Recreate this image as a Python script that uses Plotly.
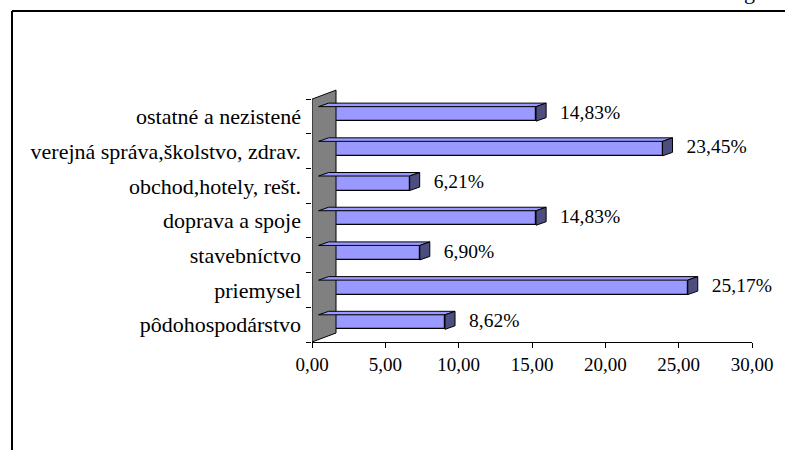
"""
plot.py

Employment structure by sector, drawn as an Excel-style 3D horizontal bar chart.
The 3D faces are built from the same values as the bars, in axis units.
"""

import plotly.graph_objects as go

# ---------------------------------------------------------------------------
# Data
# ---------------------------------------------------------------------------
CATEGORIES = [
    "pôdohospodárstvo",
    "priemysel",
    "stavebníctvo",
    "doprava a spoje",
    "obchod,hotely, rešt.",
    "verejná správa,školstvo, zdrav.",
    "ostatné a nezistené",
]
VALUES = [8.62, 25.17, 6.90, 14.83, 6.21, 23.45, 14.83]
VALUE_LABELS = ["8,62%", "25,17%", "6,90%", "14,83%", "6,21%", "23,45%", "14,83%"]
X_TICKS = [0, 5, 10, 15, 20, 25, 30]
X_TICK_LABELS = ["0,00", "5,00", "10,00", "15,00", "20,00", "25,00", "30,00"]

# ---------------------------------------------------------------------------
# Style / geometry
# ---------------------------------------------------------------------------
W, H = 785, 450
M_L, M_R, M_T, M_B = 312, 33, 87, 108
X_RANGE = [0, 30]
Y_RANGE = [-0.5, 6.85]

PX_X = (W - M_L - M_R) / (X_RANGE[1] - X_RANGE[0])   # pixels per x unit
PX_Y = (H - M_T - M_B) / (Y_RANGE[1] - Y_RANGE[0])   # pixels per category

FONT = "Liberation Serif"
COLOUR_FRONT = "#9999FF"
COLOUR_SIDE = "#4D4D80"
COLOUR_WALL = "#808080"

# 3D offsets, expressed in axis units
WALL_DX, WALL_DY = 24 / PX_X, 9 / PX_Y
BAR_OX, BAR_OY = 6.6 / PX_X, 2.6 / PX_Y
BAR_DX, BAR_DY = 10 / PX_X, 3.5 / PX_Y
BAR_W = 14.5 / PX_Y
LABEL_GAP = 14 / PX_X


def _px_to_paper(px, py):
    """Convert a pixel position on the page to paper coordinates."""
    return (px - M_L) / (W - M_L - M_R), (H - M_B - py) / (H - M_T - M_B)


def _polys(points_fn):
    xs, ys = [], []
    for i, v in enumerate(VALUES):
        px, py = points_fn(i, v)
        xs += px + [px[0], None]
        ys += py + [py[0], None]
    return xs, ys


def _top_face(i, v):
    yt = i + BAR_OY + BAR_W / 2
    x0, x1 = BAR_OX, BAR_OX + v
    return ([x0, x1, x1 + BAR_DX, x0 + BAR_DX], [yt, yt, yt + BAR_DY, yt + BAR_DY])


def _side_face(i, v):
    yt = i + BAR_OY + BAR_W / 2
    yb = i + BAR_OY - BAR_W / 2
    x1 = BAR_OX + v
    return ([x1, x1, x1 + BAR_DX, x1 + BAR_DX], [yb, yt, yt + BAR_DY, yb + BAR_DY])


fig = go.Figure()

# back wall
wall_lo, wall_hi = Y_RANGE[0], len(CATEGORIES) - 0.5
fig.add_trace(go.Scatter(
    x=[0, WALL_DX, WALL_DX, 0, 0],
    y=[wall_lo, wall_lo + WALL_DY, wall_hi + WALL_DY, wall_hi, wall_lo],
    mode="lines", fill="toself", fillcolor=COLOUR_WALL,
    line=dict(color="black", width=1),
    hoverinfo="skip", showlegend=False,
))

# front faces
fig.add_trace(go.Bar(
    x=VALUES,
    y=[i + BAR_OY for i in range(len(VALUES))],
    base=BAR_OX,
    width=BAR_W,
    orientation="h",
    marker=dict(color=COLOUR_FRONT, line=dict(color="black", width=1.2)),
    showlegend=False,
))

# top and right faces
for fn, colour in ((_top_face, COLOUR_FRONT), (_side_face, COLOUR_SIDE)):
    xs, ys = _polys(fn)
    fig.add_trace(go.Scatter(
        x=xs, y=ys, mode="lines", fill="toself", fillcolor=colour,
        line=dict(color="black", width=1),
        hoverinfo="skip", showlegend=False,
    ))

# value labels
fig.add_trace(go.Scatter(
    x=[v + BAR_OX + BAR_DX + LABEL_GAP for v in VALUES],
    y=[i + BAR_OY for i in range(len(VALUES))],
    mode="text", text=VALUE_LABELS, textposition="middle right",
    textfont=dict(family=FONT, size=19.5, color="black"),
    cliponaxis=False, hoverinfo="skip", showlegend=False,
))

# chart frame (only top and left edges are inside the picture)
fx0, fy0 = _px_to_paper(12, 11)
fx1, fy1 = _px_to_paper(W + 5, H + 5)
fig.add_shape(type="line", xref="paper", yref="paper", x0=fx0, y0=fy0, x1=fx1, y1=fy0,
              line=dict(color="black", width=2))
fig.add_shape(type="line", xref="paper", yref="paper", x0=fx0, y0=fy0, x1=fx0, y1=fy1,
              line=dict(color="black", width=2))

# cut-off glyph of the heading above the chart
gx, gy = _px_to_paper(749, 6)
fig.add_annotation(text="g", xref="paper", yref="paper", x=gx, y=gy,
                   xanchor="center", yanchor="bottom", showarrow=False,
                   font=dict(family=FONT, size=22, color="black"))

fig.update_layout(
    width=W, height=H,
    margin=dict(l=M_L, r=M_R, t=M_T, b=M_B, pad=0),
    paper_bgcolor="white", plot_bgcolor="white",
    bargap=0,
    font=dict(family=FONT, color="black"),
)
fig.update_xaxes(
    range=X_RANGE, tickvals=X_TICKS, ticktext=X_TICK_LABELS,
    showgrid=False, zeroline=False,
    showline=True, linecolor="black", linewidth=1,
    ticks="outside", ticklen=5, tickcolor="black",
    tickfont=dict(family=FONT, size=19, color="black"),
)
fig.update_yaxes(
    range=Y_RANGE, tickvals=list(range(len(CATEGORIES))), ticktext=CATEGORIES,
    showgrid=False, zeroline=False,
    showline=False, ticks="",
    ticklabelstandoff=10,
    tickfont=dict(family=FONT, size=22, color="black"),
    minor=dict(tickvals=[i - 0.5 for i in range(len(CATEGORIES) + 1)],
               ticks="outside", ticklen=5, tickcolor="black", showgrid=False),
)

# drop the browser's default body margin so the figure sits at the page origin
fig.write_html(
    "out.html",
    config={"displayModeBar": False},
    post_script="document.body.style.margin = '0';",
)
